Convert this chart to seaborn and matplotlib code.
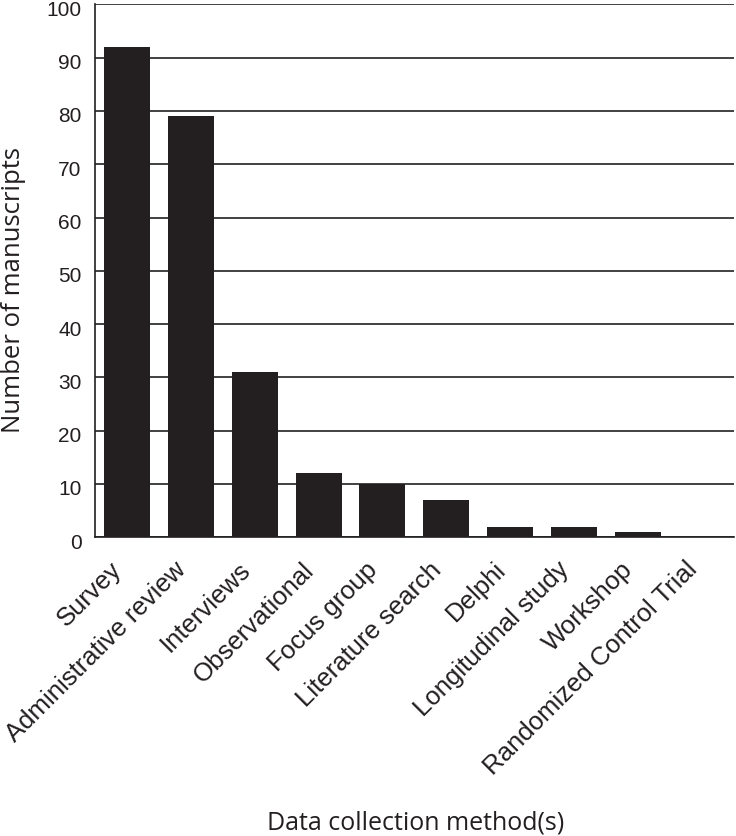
# Bar chart of data collection methods across manuscripts.
import numpy as np
import matplotlib
matplotlib.use("Agg")
import matplotlib.pyplot as plt
import matplotlib.transforms as mtransforms
import seaborn as sns

# Data.
methods = ["Survey", "Administrative review", "Interviews", "Observational",
           "Focus group", "Literature search", "Delphi", "Longitudinal study",
           "Workshop", "Randomized Control Trial"]
counts = [92, 79, 31, 12, 10, 7, 2, 2, 1, 0]
y_ticks = [0, 10, 20, 30, 40, 50, 60, 70, 80, 90, 100]

sns.set_style("white")
plt.rcParams['font.family'] = ['Liberation Sans', 'DejaVu Sans']
label_font = ['Open Sans', 'DejaVu Sans']
ink = '#231f20'

fig = plt.figure(figsize=(7.36, 8.37), dpi=100)
ax = fig.add_axes([0.129, 0.357, 0.868, 0.6365])

sns.barplot(x=methods, y=counts, color=ink, saturation=1, width=0.72,
            edgecolor='none', ax=ax, zorder=3)

# Horizontal grid behind the bars.
ax.set_axisbelow(True)
ax.yaxis.grid(True, color='#333333', linewidth=1.3)
ax.xaxis.grid(False)

ax.set_ylim(0, 100)
ax.set_xlim(-0.5, len(methods) - 0.5)
ax.set_yticks(y_ticks)
ax.tick_params(axis='y', length=0, pad=9.5, labelsize=15, colors=ink)
ax.tick_params(axis='x', which='major', length=0, pad=14, labelsize=18.5, colors=ink)

# y labels sit a little below their grid lines, as in the reference
shift = mtransforms.ScaledTranslation(0, -3 / 100, fig.dpi_scale_trans)
for lbl in ax.get_yticklabels():
    lbl.set_transform(lbl.get_transform() + shift)

# Boundary ticks between categories, pointing inward.
ax.set_xticks(np.arange(len(methods) + 1) - 0.5, minor=True)
ax.tick_params(axis='x', which='minor', direction='in', length=9, width=1, color=ink)

for lbl in ax.get_xticklabels():
    lbl.set_rotation(45)
    lbl.set_ha('right')

for side in ['top', 'right']:
    ax.spines[side].set_visible(False)
for side in ['left', 'bottom']:
    ax.spines[side].set_color(ink)
    ax.spines[side].set_linewidth(1.2)

ax.set_ylabel("")
ax.set_xlabel("")
fig.text(0.018, 0.653, "Number of manuscripts", rotation=90, ha='center', va='center',
         fontsize=18.5, family=label_font, color=ink)
fig.text(0.565, 0.002, "Data collection method(s)", ha='center', va='bottom', fontsize=18,
         family=label_font, color=ink)

fig.savefig("out.png", dpi=100)
